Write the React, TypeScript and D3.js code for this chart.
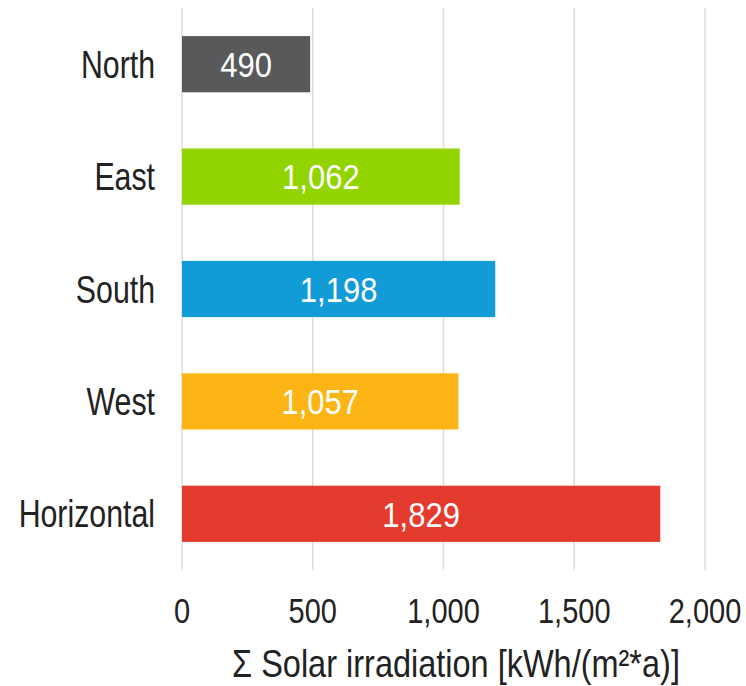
// @ts-nocheck
import React, { useEffect, useRef } from 'react';
import * as d3 from 'd3';

const categories = ['North', 'East', 'South', 'West', 'Horizontal'];
const values = [490, 1062, 1198, 1057, 1829];
const colors = ['#58595b', '#92d400', '#119bd7', '#fdb515', '#e43b2e'];
const ticks = [0, 500, 1000, 1500, 2000];
const axisTitle = 'Σ Solar irradiation [kWh/(m²*a)]';

const W = 746;
const H = 686;
const FONT = '"Liberation Sans", Arial, sans-serif';
const STRETCH = 1.25; // the text in the source is a bit taller than wide

const App = () => {
  const ref = useRef(null);

  useEffect(() => {
    const svg = d3.select(ref.current);
    svg.selectAll('*').remove();

    const x = d3.scaleLinear().domain([0, 2000]).range([182, 705]);
    const y = d3.scaleBand().domain(categories).range([8, 570]).paddingInner(0.5).paddingOuter(0.25);

    // gridlines
    svg.append('g')
      .selectAll('line')
      .data(ticks)
      .enter()
      .append('line')
      .attr('x1', (d) => x(d))
      .attr('x2', (d) => x(d))
      .attr('y1', 8)
      .attr('y2', 570)
      .attr('stroke', '#dcdcdc')
      .attr('stroke-width', 1.5);

    // bars
    svg.append('g')
      .selectAll('rect')
      .data(values)
      .enter()
      .append('rect')
      .attr('x', x(0))
      .attr('y', (d, i) => y(categories[i]))
      .attr('width', (d) => x(d) - x(0))
      .attr('height', y.bandwidth())
      .attr('fill', (d, i) => colors[i]);

    const addText = (g, tx, ty, str, opts) => {
      g.append('text')
        .attr('transform', `translate(${tx},${ty}) scale(1,${opts.stretch || STRETCH})`)
        .attr('dy', opts.dy == null ? '0.36em' : opts.dy)
        .attr('text-anchor', opts.anchor)
        .attr('font-family', FONT)
        .attr('font-size', opts.size)
        .attr('fill', opts.fill)
        .text(str);
    };

    const fmt = d3.format(',');
    const labels = svg.append('g');
    values.forEach((v, i) => {
      const cy = y(categories[i]) + y.bandwidth() / 2;
      // category label
      addText(labels, 155, cy, categories[i], { anchor: 'end', size: 30.3, fill: '#222' });
      // value label in bar
      addText(labels, (x(0) + x(v)) / 2, cy, fmt(v), { anchor: 'middle', size: 31, fill: '#ffffff', stretch: 1.15 });
    });

    // x tick labels
    ticks.forEach((t) => {
      addText(labels, x(t), 610, fmt(t), { anchor: 'middle', size: 29, fill: '#222', stretch: 1.22 });
    });

    // axis title (baseline positioned)
    addText(labels, 456, 677, axisTitle, { anchor: 'middle', size: 32.5, fill: '#222', stretch: 1.2, dy: 0 });
  }, []);

  return (
    <svg
      ref={ref}
      width={W}
      height={H}
      style={{ position: 'absolute', left: 0, top: 0, display: 'block' }}
    ></svg>
  );
};

export default App;
